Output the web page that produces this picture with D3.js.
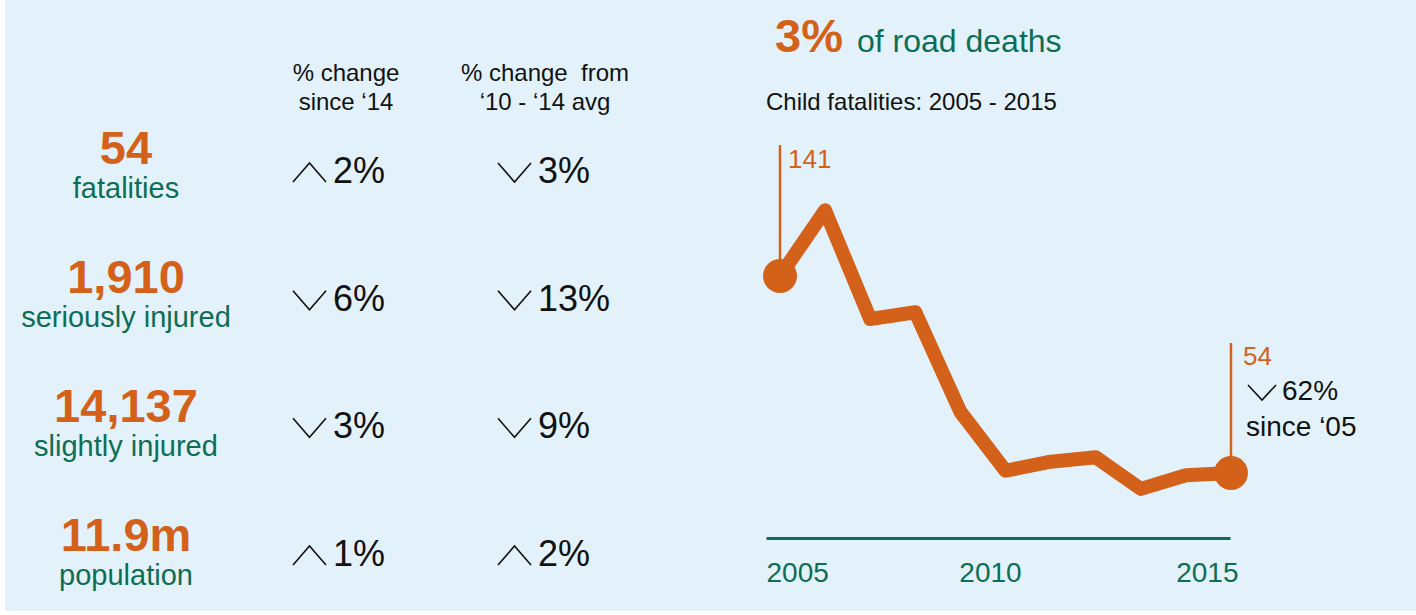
<!DOCTYPE html>
<html>
<head>
<meta charset="utf-8">
<script src="https://cdn.jsdelivr.net/npm/d3@7"></script>
<style>
    body { margin: 0; background: #ffffff; }
    svg text { font-family: 'Liberation Sans', Arial, Helvetica, sans-serif; }
</style>
</head>
<body>
<div id="chart"></div>
<script>
/* global d3 */

// child fatalities per year
const years = [2005, 2006, 2007, 2008, 2009, 2010, 2011, 2012, 2013, 2014, 2015];
const childFatalities = [141, 170, 122, 125, 81, 55, 59, 61, 47, 53, 54];
const axisTicks = [2005, 2010, 2015];

// summary figures on the left
const statValues = ['54', '1,910', '14,137', '11.9m'];
const statLabels = ['fatalities', 'seriously injured', 'slightly injured', 'population'];
const changeSince14 = [2, -6, -3, 1];
const changeFromAvg = [-3, -13, -9, 2];
const columnHeaders = [['% change', 'since ‘14'], ['% change  from', '‘10 - ‘14 avg']];

const shareOfRoadDeaths = '3%';

const W = 1416, H = 615;
const ORANGE = '#d4611a', GREEN = '#0d6d55', INK = '#111111', PANEL = '#e3f2fa';

const svg = d3.select('#chart')
    .append('svg')
    .attr('width', W)
    .attr('height', H);

svg.append('rect')
    .attr('x', 5).attr('y', 0)
    .attr('width', W - 5).attr('height', 611)
    .style('fill', PANEL);

/* ---------- left block ---------- */
const rowY = d3.scaleLinear().domain([0, 3]).range([164, 551]);
const changeY = d3.scaleLinear().domain([0, 3]).range([183, 566]);
const colX = [293, 498];

const stats = svg.append('g').attr('class', 'stats');

stats.selectAll('.stat-value')
    .data(statValues)
    .enter().append('text')
    .attr('class', 'stat-value')
    .attr('x', 126)
    .attr('y', (d, i) => rowY(i))
    .style('text-anchor', 'middle')
    .style('font-weight', 'bold')
    .style('font-size', '47px')
    .style('fill', ORANGE)
    .text(d => d);

stats.selectAll('.stat-label')
    .data(statLabels)
    .enter().append('text')
    .attr('class', 'stat-label')
    .attr('x', 126)
    .attr('y', (d, i) => rowY(i) + 34)
    .style('text-anchor', 'middle')
    .style('font-size', '29px')
    .style('fill', GREEN)
    .text(d => d);

// column headers
columnHeaders.forEach((lines, c) => {
    const cx = c === 0 ? 346 : 545;
    lines.forEach((line, j) => {
        svg.append('text')
            .attr('x', cx)
            .attr('y', 81 + j * 29)
            .style('text-anchor', 'middle')
            .style('font-size', '24px')
            .style('white-space', 'pre')
            .style('fill', INK)
            .text(line);
    });
});

// chevron: up or down, sitting just above the baseline
function chevron (g, x, base, up, w, h) {
    const top = base - h - 1, bot = base - 1;
    const p = up
        ? `M${x},${bot} L${x + w / 2},${top} L${x + w},${bot}`
        : `M${x},${top} L${x + w / 2},${bot} L${x + w},${top}`;
    g.append('path')
        .attr('d', p)
        .style('fill', 'none')
        .style('stroke', INK)
        .style('stroke-width', 1.6);
}

[changeSince14, changeFromAvg].forEach((series, c) => {
    const g = svg.append('g').attr('class', 'change-col');
    series.forEach((v, i) => {
        chevron(g, colX[c], changeY(i), v > 0, 33, 19);
        g.append('text')
            .attr('x', colX[c] + 40)
            .attr('y', changeY(i))
            .style('font-size', '36px')
            .style('fill', INK)
            .text(`${Math.abs(v)}%`);
    });
});

/* ---------- right block: line chart ---------- */
const head = svg.append('text')
    .attr('x', 775)
    .attr('y', 52);
head.append('tspan')
    .style('font-weight', 'bold')
    .style('font-size', '47px')
    .style('fill', ORANGE)
    .text(shareOfRoadDeaths);
head.append('tspan')
    .attr('x', 857)
    .style('font-size', '32px')
    .style('fill', GREEN)
    .text('of road deaths');

svg.append('text')
    .attr('x', 766)
    .attr('y', 110)
    .style('font-size', '24px')
    .style('fill', INK)
    .text(`Child fatalities: ${years[0]} - ${years[years.length - 1]}`);

const xscale = d3.scaleLinear().domain([2005, 2015]).range([780, 1231]);
const yscale = d3.scaleLinear().domain([0, 200]).range([595.3, 142.4]);
const xAxisScale = d3.scaleLinear().domain([2005, 2015]).range([766, 1230]);

const xAxis = d3.axisBottom(xAxisScale)
    .tickValues(axisTicks)
    .tickFormat(d3.format('d'))
    .tickSize(0)
    .tickPadding(0);

const axis = svg.append('g')
    .attr('transform', 'translate(0, 538)')
    .call(xAxis);

axis.select('.domain')
    .style('stroke', GREEN)
    .style('stroke-width', 3);

axis.selectAll('.tick text')
    .attr('y', 44)
    .attr('dy', null)
    .style('font-size', '28px')
    .style('fill', GREEN)
    .attr('text-anchor', (d, i) => ['start', 'middle', 'end'][i])
    .attr('dx', (d, i) => [0, -8, 8][i]);

const data = years.map((y, i) => ({ year: y, value: childFatalities[i] }));
const first = data[0], last = data[data.length - 1];

// annotation stalks
svg.append('line')
    .attr('x1', xscale(first.year)).attr('x2', xscale(first.year))
    .attr('y1', 145).attr('y2', yscale(first.value))
    .style('stroke', ORANGE)
    .style('stroke-width', 2.5);

svg.append('line')
    .attr('x1', xscale(last.year)).attr('x2', xscale(last.year))
    .attr('y1', 343).attr('y2', yscale(last.value))
    .style('stroke', ORANGE)
    .style('stroke-width', 2.5);

const line = d3.line()
    .x(d => xscale(d.year))
    .y(d => yscale(d.value));

svg.append('path')
    .datum(data)
    .attr('d', line)
    .style('fill', 'none')
    .style('stroke', ORANGE)
    .style('stroke-width', 14)
    .style('stroke-linejoin', 'round');

svg.selectAll('.end-dot')
    .data([first, last])
    .enter().append('circle')
    .attr('class', 'end-dot')
    .attr('cx', d => xscale(d.year))
    .attr('cy', d => yscale(d.value))
    .attr('r', 17)
    .style('fill', ORANGE);

svg.append('text')
    .attr('x', xscale(first.year) + 8)
    .attr('y', 168)
    .style('font-size', '26px')
    .style('fill', ORANGE)
    .text(first.value);

svg.append('text')
    .attr('x', xscale(last.year) + 12)
    .attr('y', 365)
    .style('font-size', '26px')
    .style('fill', ORANGE)
    .text(last.value);

const drop = Math.round((1 - last.value / first.value) * 100);
const note = svg.append('g').attr('class', 'note');
chevron(note, 1248, 401, false, 28, 15);
note.append('text')
    .attr('x', 1282)
    .attr('y', 400)
    .style('font-size', '28px')
    .style('fill', INK)
    .text(`${drop}%`);
note.append('text')
    .attr('x', 1246)
    .attr('y', 436)
    .style('font-size', '28px')
    .style('fill', INK)
    .text('since ‘05');
</script>
</body>
</html>
